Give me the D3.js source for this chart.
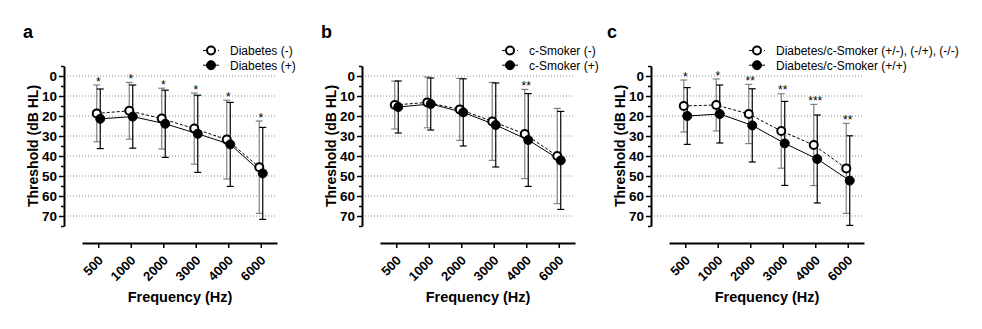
<!DOCTYPE html>
<html>
<head>
<meta charset="utf-8">
<script src="https://cdn.jsdelivr.net/npm/d3@7"></script>
<style>
  body { margin: 0; background: #fff; }
  svg { font-family: "Liberation Sans", Arial, sans-serif; }
</style>
</head>
<body>
<svg id="chart" width="982" height="329"></svg>
<script>
// frequencies on the x axis
const freqs = ["500", "1000", "2000", "3000", "4000", "6000"];
const yTicks = [0, 10, 20, 30, 40, 50, 60, 70];

// panel a: diabetes
const aLabels = ["Diabetes (-)", "Diabetes (+)"];
const aOpenMean = [18.7, 17.4, 21.3, 26.3, 31.8, 45.6];
const aOpenSD   = [14.2, 14.2, 15.2, 17.8, 19.7, 23.1];
const aFillMean = [21.4, 20.3, 23.9, 28.9, 34.2, 48.7];
const aFillSD   = [14.9, 15.8, 16.8, 19.3, 21.0, 23.0];
const aStars    = ["*", "*", "*", "*", "*", "*"];

// panel b: current smoker
const bLabels = ["c-Smoker (-)", "c-Smoker (+)"];
const bOpenMean = [14.5, 13.2, 16.7, 22.7, 29.0, 40.0];
const bOpenSD   = [12.0, 12.7, 15.5, 19.5, 22.3, 23.8];
const bFillMean = [15.5, 14.0, 18.2, 24.5, 32.0, 42.2];
const bFillSD   = [13.0, 13.0, 16.8, 21.0, 23.2, 24.5];
const bStars    = ["", "", "", "", "**", ""];

// panel c: diabetes and current smoker combined
const cLabels = ["Diabetes/c-Smoker (+/-), (-/+), (-/-)", "Diabetes/c-Smoker (+/+)"];
const cOpenMean = [15.0, 14.5, 19.0, 27.5, 34.5, 46.2];
const cOpenSD   = [13.0, 13.0, 14.8, 18.6, 20.3, 22.5];
const cFillMean = [20.0, 19.0, 24.7, 33.7, 41.5, 52.3];
const cFillSD   = [14.2, 14.5, 18.3, 21.0, 22.0, 22.4];
const cStars    = ["*", "*", "**", "**", "***", "**"];

const svg = d3.select("#chart");
const y = d3.scaleLinear().domain([-5, 75]).range([66, 226]);
const xAxisY = 243;

function drawPanel(letter, letterX, x0, legendX, labels, openMean, openSD, fillMean, fillSD, stars) {
  const g = svg.append("g");
  const x = d3.scalePoint().domain(freqs).range([x0 + 18, x0 + 213]).padding(0.5);

  g.append("text").attr("x", letterX).attr("y", 38)
    .attr("font-size", 18).attr("font-weight", "bold").text(letter);

  // dotted grid
  g.append("g").selectAll("line").data(yTicks).enter().append("line")
    .attr("x1", x0).attr("x2", x0 + 212)
    .attr("y1", d => y(d)).attr("y2", d => y(d))
    .attr("stroke", "#888").attr("stroke-width", 1).attr("stroke-dasharray", "1,2");

  // y axis with minor ticks
  const minor = d3.range(-5, 80, 10);
  g.append("g").attr("transform", `translate(${x0},0)`)
    .call(d3.axisLeft(y).tickValues(minor).tickSize(3).tickSizeOuter(0).tickFormat(""))
    .call(a => a.selectAll("line").attr("stroke-width", 1.5));
  const ya = g.append("g").attr("transform", `translate(${x0},0)`)
    .call(d3.axisLeft(y).tickValues(yTicks).tickSize(5).tickSizeOuter(0).tickPadding(2));
  ya.select(".domain").attr("stroke-width", 2);
  ya.selectAll("line").attr("stroke-width", 1.5);
  ya.selectAll("text").attr("font-size", 13.5).attr("font-weight", "bold")
    .attr("font-family", "Liberation Sans, Arial, sans-serif");

  g.append("text")
    .attr("transform", `translate(${x0 - 26},146) rotate(-90)`)
    .attr("text-anchor", "middle").attr("font-size", 14).attr("font-weight", "bold")
    .text("Threshold (dB HL)");

  // x axis
  const xa = g.append("g").attr("transform", `translate(0,${xAxisY})`)
    .call(d3.axisBottom(x).tickSize(5).tickSizeOuter(0));
  xa.select(".domain").attr("stroke-width", 2);
  xa.selectAll("line").attr("stroke-width", 1.5);
  xa.selectAll("text")
    .attr("font-size", 13).attr("font-weight", "bold")
    .attr("font-family", "Liberation Sans, Arial, sans-serif")
    .attr("text-anchor", "end")
    .attr("x", 0).attr("y", 0).attr("dy", "0.35em")
    .attr("transform", "translate(2,15) rotate(-45)");

  g.append("text").attr("x", x0 + 116).attr("y", 302)
    .attr("text-anchor", "middle").attr("font-size", 14.5).attr("font-weight", "bold")
    .text("Frequency (Hz)");

  const series = [
    { mean: openMean, sd: openSD, dx: -1.5, bar: "#808080", dash: "3,2", open: true },
    { mean: fillMean, sd: fillSD, dx: 2, bar: "#000", dash: null, open: false }
  ];

  // error bars
  series.forEach(s => {
    const eb = g.append("g").attr("stroke", s.bar).attr("stroke-width", 1.2);
    freqs.forEach((f, i) => {
      const cx = x(f) + s.dx;
      const t = y(s.mean[i] - s.sd[i]), b = y(s.mean[i] + s.sd[i]);
      eb.append("line").attr("x1", cx).attr("x2", cx).attr("y1", t).attr("y2", b);
      eb.append("line").attr("x1", cx - 3.5).attr("x2", cx + 3.5).attr("y1", t).attr("y2", t);
      eb.append("line").attr("x1", cx - 3.5).attr("x2", cx + 3.5).attr("y1", b).attr("y2", b);
    });
  });

  // connecting lines
  series.forEach(s => {
    const line = d3.line().x((d, i) => x(freqs[i]) + s.dx).y(d => y(d));
    g.append("path").attr("d", line(s.mean))
      .attr("fill", "none").attr("stroke", "#000").attr("stroke-width", 1)
      .attr("stroke-dasharray", s.dash);
  });

  // markers
  series.forEach(s => {
    g.append("g").selectAll("circle").data(s.mean).enter().append("circle")
      .attr("cx", (d, i) => x(freqs[i]) + s.dx).attr("cy", d => y(d))
      .attr("r", s.open ? 4 : 4.5)
      .attr("fill", s.open ? "#fff" : "#000")
      .attr("stroke", "#000").attr("stroke-width", s.open ? 2 : 1);
  });

  // significance marks
  g.append("g").selectAll("text").data(stars).enter().append("text")
    .attr("x", (d, i) => x(freqs[i]))
    .attr("y", (d, i) => y(Math.min(openMean[i] - openSD[i], fillMean[i] - fillSD[i])) + 0.5)
    .attr("text-anchor", "middle").attr("font-size", 12)
    .text(d => d);

  // legend
  labels.forEach((lab, i) => {
    const ly = 50.5 + i * 14.7;
    const s = series[i];
    g.append("line").attr("x1", legendX - 8).attr("x2", legendX + 8)
      .attr("y1", ly).attr("y2", ly).attr("stroke", "#000").attr("stroke-width", 1)
      .attr("stroke-dasharray", s.dash);
    g.append("circle").attr("cx", legendX).attr("cy", ly).attr("r", s.open ? 4 : 4.5)
      .attr("fill", s.open ? "#fff" : "#000").attr("stroke", "#000")
      .attr("stroke-width", s.open ? 2 : 1);
    g.append("text").attr("x", legendX + 19).attr("y", ly + 4.5)
      .attr("font-size", 12).text(lab);
  });
}

drawPanel("a", 23, 64, 211, aLabels, aOpenMean, aOpenSD, aFillMean, aFillSD, aStars);
drawPanel("b", 321, 362, 510, bLabels, bOpenMean, bOpenSD, bFillMean, bFillSD, bStars);
drawPanel("c", 607, 651, 757, cLabels, cOpenMean, cOpenSD, cFillMean, cFillSD, cStars);
</script>
</body>
</html>
